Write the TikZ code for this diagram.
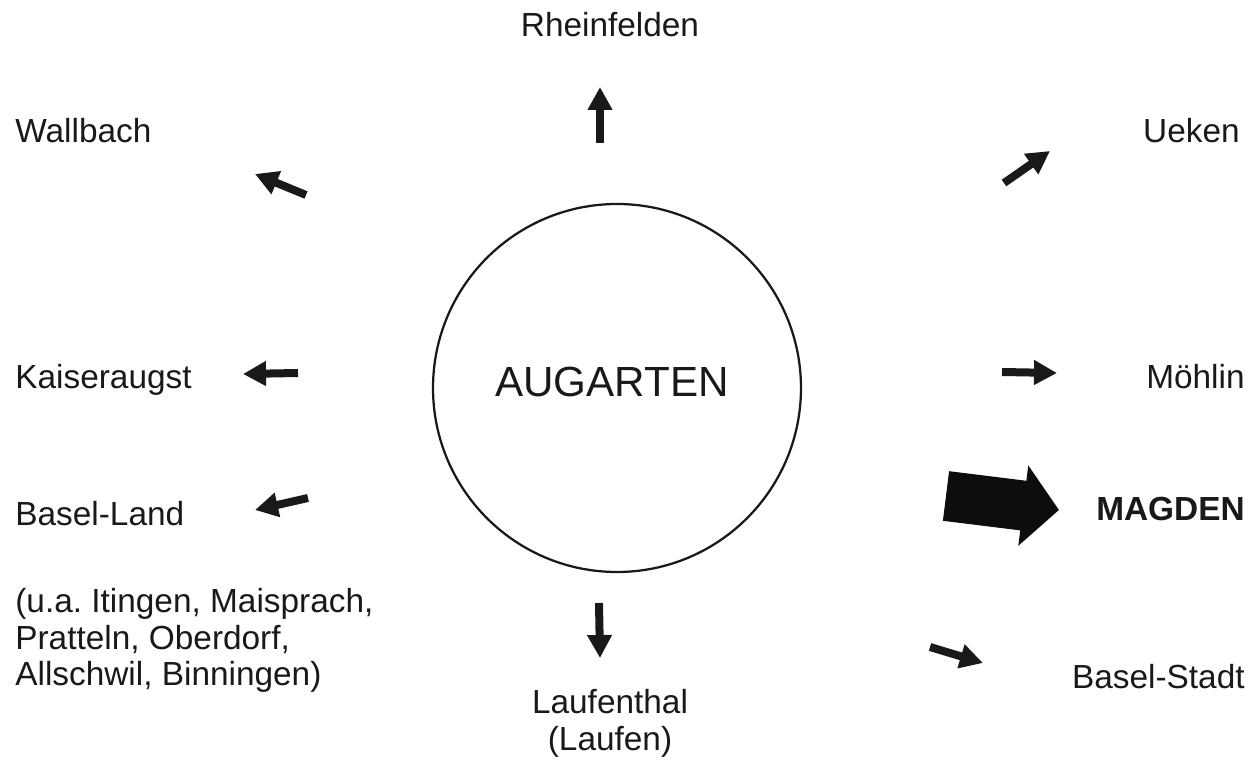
\documentclass[tikz,border=0pt]{standalone}
\usepackage{fontspec}
\setmainfont{Liberation Sans}
\usetikzlibrary{arrows.meta}

\tikzset{
  place/.style={font=\fontsize{19}{21}\selectfont, inner sep=0pt, text=black!90},
  flow/.style={line width=0.16cm, black!90, -{Triangle[length=0.46cm,width=0.47cm]}},
  mainflow/.style={line width=1.0cm, black!95, -{Triangle[length=0.72cm,width=1.58cm]}}
}

\begin{document}
\begin{tikzpicture}[x=0.02cm,y=-0.02cm]

% Frame (pixel coordinates)
\useasboundingbox (0,0) rectangle (1259,763);

% Define radius
\def\r{184}

% Center
\coordinate (C) at (617,388);

% Draw circle
\draw[line width=0.045cm, black!90] (C) circle (\r);
\node[font=\fontsize{24}{28}\selectfont, inner sep=0pt, anchor=base, text=black!90] (aug) at (612,397) {AUGARTEN};

% Labels for places
\node[place, anchor=base] (rhe) at (610,37) {Rheinfelden};
\node[place, anchor=base west] (wal) at (15,143) {Wallbach};
\node[place, anchor=base east] (uek) at (1240,143) {Ueken};
\node[place, anchor=base west] (kai) at (15,389) {Kaiseraugst};
\node[place, anchor=base east] (moe) at (1245,389) {Möhlin};
\node[place, anchor=base west] (bla) at (15,526) {Basel-Land};
\node[place, anchor=base east, font=\fontsize{19}{21}\selectfont\bfseries] (mag) at (1245,521) {MAGDEN};
% multi-line: base is the last line
\node[place, anchor=base west, align=left] (ua) at (15,686) {(u.a.\ Itingen, Maisprach,\\Pratteln, Oberdorf,\\Allschwil, Binningen)};
\node[place, anchor=base east] (bst) at (1245,689) {Basel-Stadt};
\node[place, anchor=base, align=center] (lau) at (610,750) {Laufenthal\\(Laufen)};

% Arrow ends (tail, tip)
\coordinate (rheT) at (600,143); \coordinate (rheP) at (600,87);
\coordinate (walT) at (306,195); \coordinate (walP) at (255,174);
\coordinate (uekT) at (1004,183); \coordinate (uekP) at (1050,151);
\coordinate (kaiT) at (298,373); \coordinate (kaiP) at (243,374);
\coordinate (moeT) at (1002,372); \coordinate (moeP) at (1057,373);
\coordinate (blaT) at (308,498); \coordinate (blaP) at (255,510);
\coordinate (lauT) at (599,603); \coordinate (lauP) at (600,658);
\coordinate (bstT) at (930,647); \coordinate (bstP) at (983,663);
\coordinate (magT) at (946,496); \coordinate (magP) at (1059,510);

% Draw arrows
\draw[flow] (rheT) -- (rheP);
\draw[flow] (walT) -- (walP);
\draw[flow] (uekT) -- (uekP);
\draw[flow] (kaiT) -- (kaiP);
\draw[flow] (moeT) -- (moeP);
\draw[flow] (blaT) -- (blaP);
\draw[flow] (lauT) -- (lauP);
\draw[flow] (bstT) -- (bstP);
\draw[mainflow] (magT) -- (magP);

\end{tikzpicture}
\end{document}
